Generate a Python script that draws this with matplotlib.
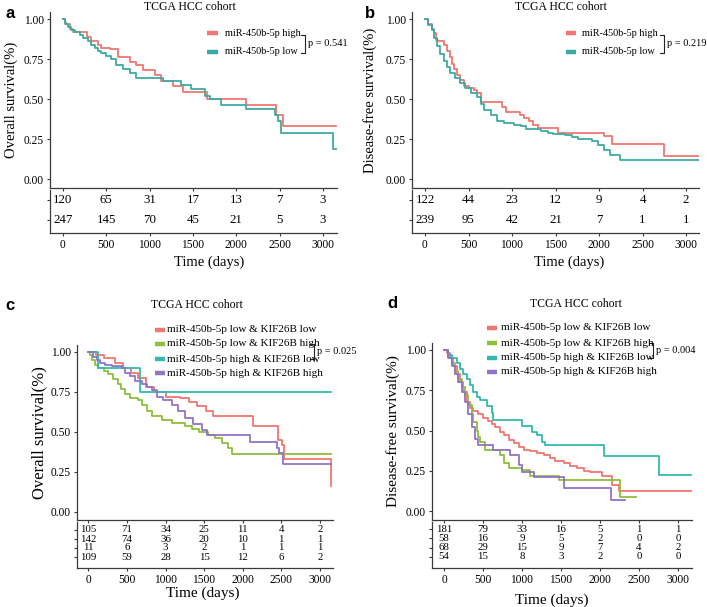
import matplotlib
matplotlib.use('Agg')
import matplotlib.pyplot as plt

plt.rcParams['font.family'] = ['Liberation Serif', 'DejaVu Serif']

W, H = 707, 607

RED = '#F07670'
TEAL = '#3DAAA2'
GREEN = '#8DBE3C'
CYAN = '#35B8B0'
PURPLE = '#9273C4'

risk_times = [0, 500, 1000, 1500, 2000, 2500, 3000]
tick_days = [0, 500, 1000, 1500, 2000, 2500, 3000]
y_ticks = [0.0, 0.25, 0.5, 0.75, 1.0]

# ---- panel a: overall survival, miR-450b-5p high / low ----
a_high_t = [0, 19, 38, 77, 115, 281, 327, 404, 442, 538, 635, 769, 846, 923, 1058, 1135,
            1269, 1385, 1661, 2115, 2454, 2538]
a_high_s = [1.00, 0.98, 0.97, 0.94, 0.92, 0.89, 0.86, 0.84, 0.82, 0.81, 0.765, 0.73, 0.71,
            0.68, 0.65, 0.61, 0.58, 0.545, 0.50, 0.46, 0.40, 0.33]
a_low_t = [0, 19, 58, 96, 135, 192, 231, 288, 327, 365, 404, 442, 500, 558, 615, 692, 769,
           846, 1154, 1365, 1481, 1635, 1692, 1827, 2115, 2442, 2481, 2519, 3115]
a_low_s = [1.00, 0.97, 0.95, 0.93, 0.92, 0.90, 0.88, 0.86, 0.84, 0.82, 0.80, 0.785, 0.77,
           0.75, 0.71, 0.685, 0.66, 0.63, 0.61, 0.59, 0.56, 0.52, 0.50, 0.46, 0.44, 0.40,
           0.36, 0.29, 0.19]
a_risk_high = [120, 65, 31, 17, 13, 7, 3]
a_risk_low = [247, 145, 70, 45, 21, 5, 3]

# ---- panel b: disease-free survival, miR-450b-5p high / low ----
b_high_t = [0, 39, 77, 105, 128, 155, 213, 252, 283, 310, 329, 368, 407, 445, 503, 561, 600,
            639, 890, 929, 1096, 1142, 1200, 1239, 1297, 1529, 2063, 2149, 2749]
b_high_s = [1.00, 0.97, 0.94, 0.91, 0.87, 0.86, 0.84, 0.80, 0.76, 0.72, 0.69, 0.65, 0.62,
            0.58, 0.57, 0.555, 0.535, 0.48, 0.45, 0.42, 0.40, 0.38, 0.36, 0.34, 0.32, 0.29,
            0.27, 0.22, 0.145]
b_low_t = [0, 39, 77, 105, 135, 174, 213, 252, 290, 348, 407, 465, 523, 600, 639, 678, 755,
           832, 910, 1026, 1103, 1161, 1336, 1413, 1471, 1607, 1684, 1761, 1916, 1990, 2052,
           2130, 2245]
b_low_s = [1.00, 0.96, 0.93, 0.88, 0.83, 0.78, 0.74, 0.70, 0.66, 0.63, 0.60, 0.57, 0.54,
           0.51, 0.47, 0.43, 0.40, 0.36, 0.35, 0.34, 0.33, 0.31, 0.30, 0.29, 0.28, 0.275,
           0.26, 0.25, 0.24, 0.21, 0.18, 0.15, 0.12]
b_risk_high = [122, 44, 23, 12, 9, 4, 2]
b_risk_low = [239, 95, 42, 21, 7, 1, 1]

# ---- panel c: overall survival, four groups ----
c_ll_t = [0, 100, 200, 350, 450, 550, 650, 750, 850, 1000, 1190, 1300, 1410, 1520, 1620,
          2130, 2460, 2510, 2540, 3140]
c_ll_s = [1.00, 0.98, 0.96, 0.93, 0.90, 0.87, 0.84, 0.78, 0.75, 0.72, 0.71, 0.69, 0.66,
          0.63, 0.60, 0.54, 0.45, 0.42, 0.33, 0.16]
c_lh_t = [0, 20, 43, 90, 129, 200, 259, 320, 388, 430, 475, 540, 647, 691, 755, 820, 950,
          1079, 1252, 1338, 1440, 1554, 1640, 1726, 1813, 1856]
c_lh_s = [1.00, 0.98, 0.95, 0.92, 0.90, 0.88, 0.86, 0.83, 0.80, 0.77, 0.74, 0.71, 0.70,
          0.67, 0.63, 0.60, 0.575, 0.555, 0.54, 0.52, 0.50, 0.48, 0.46, 0.43, 0.40, 0.36]
c_hl_t = [0, 129, 669]
c_hl_s = [1.00, 0.90, 0.75]
c_hh_t = [0, 65, 108, 151, 216, 302, 432, 475, 540, 604, 691, 755, 820, 885, 971, 1079,
          1165, 1252, 1360, 1467, 1532, 2093, 2439, 2469, 2525]
c_hh_s = [1.00, 0.97, 0.95, 0.93, 0.92, 0.91, 0.90, 0.87, 0.85, 0.82, 0.80, 0.78, 0.76,
          0.72, 0.70, 0.67, 0.63, 0.59, 0.55, 0.51, 0.48, 0.44, 0.40, 0.37, 0.30]
c_risk = [[105, 71, 34, 25, 11, 4, 2],
          [142, 74, 36, 20, 10, 1, 1],
          [11, 6, 3, 2, 1, 1, 1],
          [109, 59, 28, 15, 12, 6, 2]]

# ---- panel d: disease-free survival, four groups ----
d_ll_t = [0, 34, 77, 120, 163, 206, 249, 291, 334, 377, 441, 506, 570, 613, 656, 720, 763,
          827, 892, 956, 1020, 1106, 1192, 1277, 1363, 1427, 1535, 1620, 1706, 1792, 1877,
          2027, 2156, 2242]
d_ll_s = [1.00, 0.98, 0.95, 0.90, 0.85, 0.80, 0.74, 0.68, 0.64, 0.62, 0.60, 0.58, 0.56,
          0.54, 0.52, 0.49, 0.47, 0.44, 0.42, 0.40, 0.38, 0.37, 0.36, 0.35, 0.33, 0.31,
          0.30, 0.28, 0.27, 0.25, 0.24, 0.215, 0.16, 0.125]
d_lh_t = [0, 56, 99, 141, 184, 227, 270, 313, 356, 377, 420, 441, 463, 527, 720, 763, 827,
          999, 1106, 1480, 2250]
d_lh_s = [1.00, 0.96, 0.92, 0.87, 0.82, 0.77, 0.72, 0.66, 0.60, 0.55, 0.50, 0.46, 0.43,
          0.38, 0.35, 0.30, 0.27, 0.255, 0.22, 0.19, 0.09]
d_hl_t = [0, 56, 99, 163, 206, 249, 291, 334, 377, 420, 463, 549, 613, 634, 999, 1127, 1192,
          1256, 1299, 2049, 2756]
d_hl_s = [1.00, 0.97, 0.95, 0.92, 0.88, 0.85, 0.82, 0.78, 0.74, 0.71, 0.69, 0.65, 0.61,
          0.565, 0.53, 0.49, 0.47, 0.43, 0.41, 0.34, 0.225]
d_hh_t = [0, 56, 99, 141, 184, 227, 270, 313, 356, 399, 441, 634, 849, 956, 999, 1149, 1535,
          2135]
d_hh_s = [1.00, 0.95, 0.90, 0.85, 0.80, 0.74, 0.68, 0.60, 0.52, 0.45, 0.41, 0.38, 0.35,
          0.285, 0.24, 0.21, 0.14, 0.066]
d_risk = [[181, 79, 33, 16, 5, 1, 1],
          [58, 16, 9, 5, 2, 0, 0],
          [68, 29, 15, 9, 7, 4, 2],
          [54, 15, 8, 3, 2, 0, 0]]

two_labels = ['miR-450b-5p high', 'miR-450b-5p low']
four_labels = ['miR-450b-5p low & KIF26B low', 'miR-450b-5p low & KIF26B high',
               'miR-450b-5p high & KIF26B low', 'miR-450b-5p high & KIF26B high']
title = 'TCGA HCC cohort'

SPINE = '#3a3a3a'


def addAxes(fig, box):
    """box = (left, top, right, bottom) in pixels"""
    x0, y0, x1, y1 = box
    return fig.add_axes([x0 / W, 1 - y1 / H, (x1 - x0) / W, (y1 - y0) / H])


def styleAxes(ax):
    for side in ['top', 'right']:
        ax.spines[side].set_visible(False)
    for side in ['left', 'bottom']:
        ax.spines[side].set_color(SPINE)
        ax.spines[side].set_linewidth(0.9)
    ax.tick_params(colors=SPINE, length=2.5, width=0.8, labelcolor='black', pad=2)
    ax.patch.set_alpha(0)


def drawSurvival(fig, box, x_map, y_map, curves, ylabel, ylabel_x, ylabel_size):
    ax = addAxes(fig, box)
    zero_px, px_per_day = x_map
    one_py, zero_py = y_map
    span = zero_py - one_py
    for t, s, color, end in curves:
        ax.step(t + [end], s + [s[-1]], where='post', color=color, lw=1.3)
    ax.set_xlim((box[0] - zero_px) / px_per_day, (box[2] - zero_px) / px_per_day)
    ax.set_ylim((zero_py - box[3]) / span, (zero_py - box[1]) / span)
    ax.set_xticks(tick_days)
    ax.set_xticklabels([])
    ax.set_yticks(y_ticks)
    ax.set_yticklabels(['%.2f' % v for v in y_ticks], fontsize=8.3)
    styleAxes(ax)
    fig.text(ylabel_x / W, 1 - ((box[1] + box[3]) / 2) / H, ylabel, rotation=90,
             ha='center', va='center', fontsize=ylabel_size)
    return ax


def drawRiskTable(fig, box, x_map, rows_py, counts, fontsize):
    ax = addAxes(fig, box)
    zero_px, px_per_day = x_map
    sp = rows_py[1] - rows_py[0]
    for i, row in enumerate(counts):
        for t, n in zip(risk_times, row):
            ax.text(t, i, str(n), ha='center', va='center', fontsize=fontsize)
    ax.set_xlim((box[0] - zero_px) / px_per_day, (box[2] - zero_px) / px_per_day)
    ax.set_ylim((box[3] - rows_py[0]) / sp, (box[1] - rows_py[0]) / sp)
    ax.set_xticks(tick_days)
    ax.set_xticklabels([str(d) for d in tick_days], fontsize=8.3)
    ax.set_yticks(range(len(counts)))
    ax.set_yticklabels([])
    styleAxes(ax)
    return ax


def drawLegend(fig, patch_x, text_x, rows_py, labels, colors, fontsize):
    for y, lab, col in zip(rows_py, labels, colors):
        fig.add_artist(plt.Line2D([patch_x[0] / W, patch_x[1] / W], [1 - y / H, 1 - y / H],
                                  color=col, lw=3.2, solid_capstyle='butt'))
        fig.text(text_x / W, 1 - y / H, lab, ha='left', va='center', fontsize=fontsize)


def drawBracket(fig, x, y_top, y_bot, p_text):
    xs = [(x - 4) / W, x / W, x / W, (x - 4) / W]
    ys = [1 - y_top / H, 1 - y_top / H, 1 - y_bot / H, 1 - y_bot / H]
    fig.add_artist(plt.Line2D(xs, ys, color='#222222', lw=0.8))
    fig.text((x + 3) / W, 1 - ((y_top + y_bot) / 2) / H, p_text, ha='left', va='center',
             fontsize=7.5)


fig = plt.figure(figsize=(W / 100, H / 100), dpi=100)

# ---------- a ----------
xa = (63, 0.08667)
drawSurvival(fig, (50, 12, 337, 188), xa, (19, 179),
             [(a_high_t, a_high_s, RED, 3154), (a_low_t, a_low_s, TEAL, 3154)],
             'Overall survival(%)', 11, 10.5)
drawRiskTable(fig, (50, 190, 337, 233), xa, [200, 220], [a_risk_high, a_risk_low], 9.3)
fig.text(209 / W, 1 - 262 / H, 'Time (days)', ha='center', va='center', fontsize=10.5)
fig.text(190 / W, 1 - 7 / H, title, ha='center', va='center', fontsize=8.5)
drawLegend(fig, (207, 218), 225, [33, 52], two_labels, [RED, TEAL], 7.4)
drawBracket(fig, 305, 35, 53, 'p = 0.541')
fig.text(10 / W, 1 - 14 / H, 'a', family='Liberation Sans', weight='bold', fontsize=12,
         ha='center', va='center')

# ---------- b ----------
xb = (425, 0.08700)
drawSurvival(fig, (412, 12, 699, 188), xb, (19, 179),
             [(b_high_t, b_high_s, RED, 3175), (b_low_t, b_low_s, TEAL, 3175)],
             'Disease-free survival(%)', 370, 10.5)
drawRiskTable(fig, (412, 190, 699, 233), xb, [200, 220], [b_risk_high, b_risk_low], 9.3)
fig.text(569 / W, 1 - 262 / H, 'Time (days)', ha='center', va='center', fontsize=10.5)
fig.text(561 / W, 1 - 7 / H, title, ha='center', va='center', fontsize=8.5)
drawLegend(fig, (566, 576), 582, [33, 52], two_labels, [RED, TEAL], 7.4)
drawBracket(fig, 664, 35, 53, 'p = 0.219')
fig.text(370 / W, 1 - 14 / H, 'b', family='Liberation Sans', weight='bold', fontsize=12,
         ha='center', va='center')

# ---------- c ----------
xc = (88.3, 0.0772)
drawSurvival(fig, (77, 345, 333, 520), xc, (352, 512),
             [(c_ll_t, c_ll_s, RED, 3150), (c_lh_t, c_lh_s, GREEN, 3150),
              (c_hl_t, c_hl_s, CYAN, 3150), (c_hh_t, c_hh_s, PURPLE, 3150)],
             'Overall survival(%)', 39, 12)
drawRiskTable(fig, (77, 522, 333, 568), xc, [530, 539], c_risk, 7.8)
fig.text(203 / W, 1 - 593 / H, 'Time (days)', ha='center', va='center', fontsize=11)
fig.text(197 / W, 1 - 305 / H, title, ha='center', va='center', fontsize=8.5)
drawLegend(fig, (155, 165), 167, [330, 344, 359, 373], four_labels,
           [RED, GREEN, CYAN, PURPLE], 8)
drawBracket(fig, 314, 344, 359, 'p = 0.025')
fig.text(10 / W, 1 - 305 / H, 'c', family='Liberation Sans', weight='bold', fontsize=12,
         ha='center', va='center')

# ---------- d ----------
xd = (444, 0.0780)
drawSurvival(fig, (432, 343, 692, 520), xd, (350, 511),
             [(d_ll_t, d_ll_s, RED, 3170), (d_lh_t, d_lh_s, GREEN, 2456),
              (d_hl_t, d_hl_s, CYAN, 3170), (d_hh_t, d_hh_s, PURPLE, 2315)],
             'Disease-free survival(%)', 393, 11)
drawRiskTable(fig, (432, 522, 692, 568), xd, [529, 538.3], d_risk, 7.8)
fig.text(552 / W, 1 - 600 / H, 'Time (days)', ha='center', va='center', fontsize=11)
fig.text(576 / W, 1 - 304 / H, title, ha='center', va='center', fontsize=8.5)
drawLegend(fig, (487, 497), 501, [328, 343, 358, 372], four_labels,
           [RED, GREEN, CYAN, PURPLE], 8)
drawBracket(fig, 653, 343, 358, 'p = 0.004')
fig.text(392 / W, 1 - 304 / H, 'd', family='Liberation Sans', weight='bold', fontsize=12,
         ha='center', va='center')

fig.savefig('out.png', dpi=100)
